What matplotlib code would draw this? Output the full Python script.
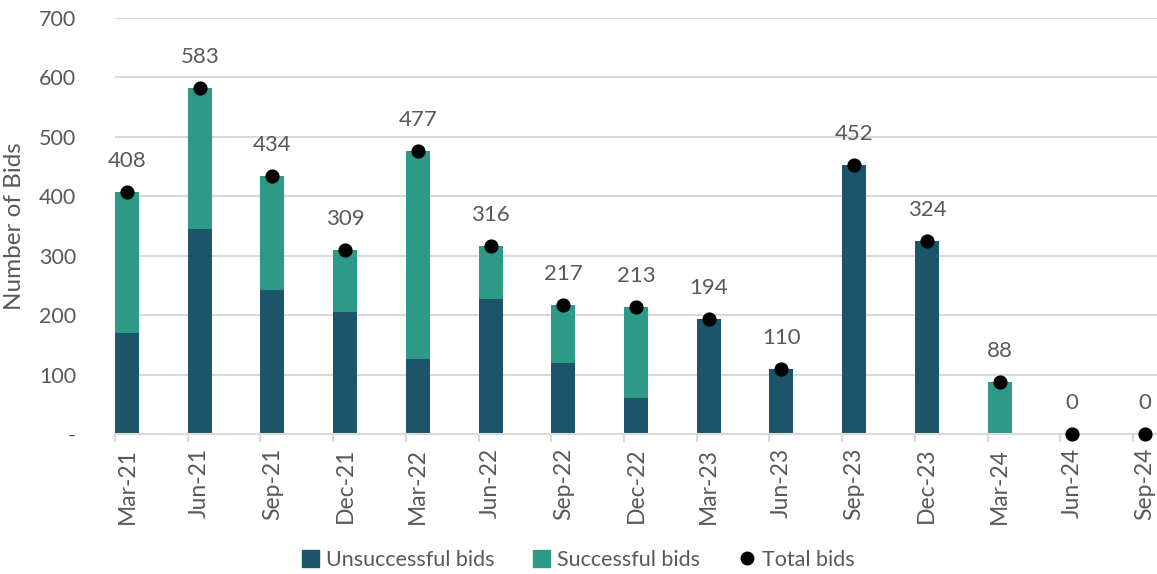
import matplotlib.pyplot as plt
from matplotlib.patches import Patch
from matplotlib.lines import Line2D
import numpy as np

plt.rcParams['font.family'] = ['Lato', 'DejaVu Sans']

quarters = ['Mar-21', 'Jun-21', 'Sep-21', 'Dec-21', 'Mar-22', 'Jun-22', 'Sep-22', 'Dec-22',
            'Mar-23', 'Jun-23', 'Sep-23', 'Dec-23', 'Mar-24', 'Jun-24', 'Sep-24']
unsuccessful = [170, 345, 243, 206, 127, 227, 120, 61, 194, 110, 452, 324, 0, 0, 0]
successful = [238, 238, 191, 103, 350, 89, 97, 152, 0, 0, 0, 0, 88, 0, 0]
total = [408, 583, 434, 309, 477, 316, 217, 213, 194, 110, 452, 324, 88, 0, 0]

c_unsucc = '#1C5569'
c_succ = '#2C9A86'
txt = '#595959'
grid_c = '#D9D9D9'

fig = plt.figure(figsize=(11.57, 5.74), dpi=100)
ax = fig.add_axes([115/1157, 1 - 434/574, 1042/1157, 416/574])

x = np.arange(len(quarters))
w = 0.33
ax.bar(x, unsuccessful, width=w, align='edge', color=c_unsucc, zorder=2)
ax.bar(x, successful, width=w, bottom=unsuccessful, align='edge', color=c_succ, zorder=2)
ax.scatter(x + w / 2, total, s=85, color='black', zorder=4, clip_on=False)

# value labels above the dots
for xi, t in zip(x, total):
    ax.annotate(str(t), (xi + w / 2, t), textcoords='offset points', xytext=(0, 18),
                ha='center', va='baseline', fontsize=16, color=txt)

ax.set_ylim(0, 700)
ax.set_xlim(0, 14.33)
ax.set_yticks(range(0, 701, 100))
ax.set_yticklabels(['-'] + [str(v) for v in range(100, 701, 100)])
ax.yaxis.grid(True, color=grid_c, linewidth=1.5, zorder=0)
ax.set_axisbelow(True)

ax.set_xticks(x)
ax.set_xticklabels([])
ax.set_xticks(x + w / 2, minor=True)
ax.set_xticklabels(quarters, minor=True, rotation=90, va='top', ha='center')
ax.tick_params(axis='x', which='major', length=6, color=grid_c, width=1.5)
ax.tick_params(axis='x', which='minor', length=0, pad=10, labelsize=16.5, labelcolor=txt)
ax.tick_params(axis='y', length=0, pad=28, labelsize=15.5, labelcolor=txt)

for s in ['top', 'right', 'left']:
    ax.spines[s].set_visible(False)
ax.spines['bottom'].set_color(grid_c)
ax.spines['bottom'].set_linewidth(1.5)

ax.set_ylabel('Number of Bids', fontsize=17.5, color=txt, labelpad=10)

handles = [Patch(color=c_unsucc, label='Unsuccessful bids'),
           Patch(color=c_succ, label='Successful bids'),
           Line2D([], [], marker='o', color='black', linestyle='', markersize=9, label='Total bids')]
fig.legend(handles=handles, loc='center', bbox_to_anchor=(0.5, 1 - 560/574), ncol=3,
           frameon=False, fontsize=15.5, labelcolor=txt, handlelength=0.8, handleheight=0.8,
           handletextpad=0.3, columnspacing=1.8)

fig.savefig('out.png', dpi=100)
